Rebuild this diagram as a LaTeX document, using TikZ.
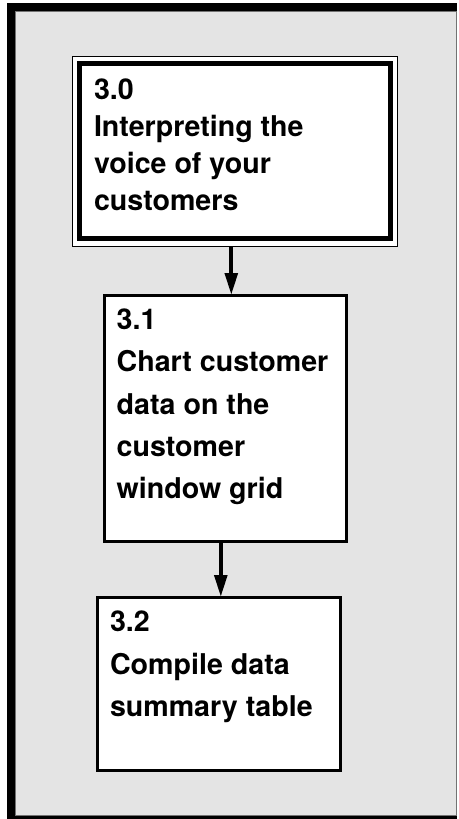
\documentclass[tikz,border=0pt]{standalone}
\usepackage{fontspec}
\setmainfont{TeX Gyre Heros}
\usetikzlibrary{arrows.meta}
\definecolor{panel}{RGB}{228,228,228}
\begin{document}
\begin{tikzpicture}[x=1pt,y=-1pt,
  stepbox/.style={draw=black,fill=white,line width=3pt,inner sep=0pt,outer sep=0pt},
  steptext/.style={anchor=north west,inner sep=0pt,outer sep=0pt,align=left,
    font=\fontsize{28.6}{42.4}\selectfont\bfseries},
  flow/.style={line width=4pt,-{Triangle[length=22pt,width=12.5pt]}}]
  \useasboundingbox (0,0) rectangle (458,819);
  % outer frame: heavy rule on the left, top and bottom
  \fill[black] (7,3) rectangle (457,819);
  \filldraw[fill=panel,draw=black!55,line width=1pt] (15,11) rectangle (456.5,815.5);

  % 3.0 with its double border
  \node[stepbox,line width=1pt,minimum width=325pt,minimum height=189.7pt] (b30o) at (235.3,151.35) {};
  \node[stepbox,line width=5pt,minimum width=311pt,minimum height=174.8pt] (b30) at (235.3,150.9) {};
  \node[steptext,font=\fontsize{28.6}{37}\selectfont\bfseries] (t30) at (94,78.5)
    {3.0\\Interpreting the\\voice of your\\customers};

  % 3.1
  \node[stepbox,minimum width=242pt,minimum height=246.5pt] (b31) at (225.5,418.25) {};
  \node[steptext] (t31) at (116.7,308.5)
    {3.1\\Chart customer\\data on the\\customer\\window grid};

  % 3.2
  \node[stepbox,minimum width=242.5pt,minimum height=173.5pt] (b32) at (218.75,683.75) {};
  \node[steptext] (t32) at (110,611)
    {3.2\\Compile data\\summary table};

  % connectors
  \draw[flow] (b30o.south -| 231.3,0) -- (b31.north -| 231.3,0);
  \draw[flow] (b31.south -| 220.8,0) -- (b32.north -| 220.8,0);
\end{tikzpicture}
\end{document}
